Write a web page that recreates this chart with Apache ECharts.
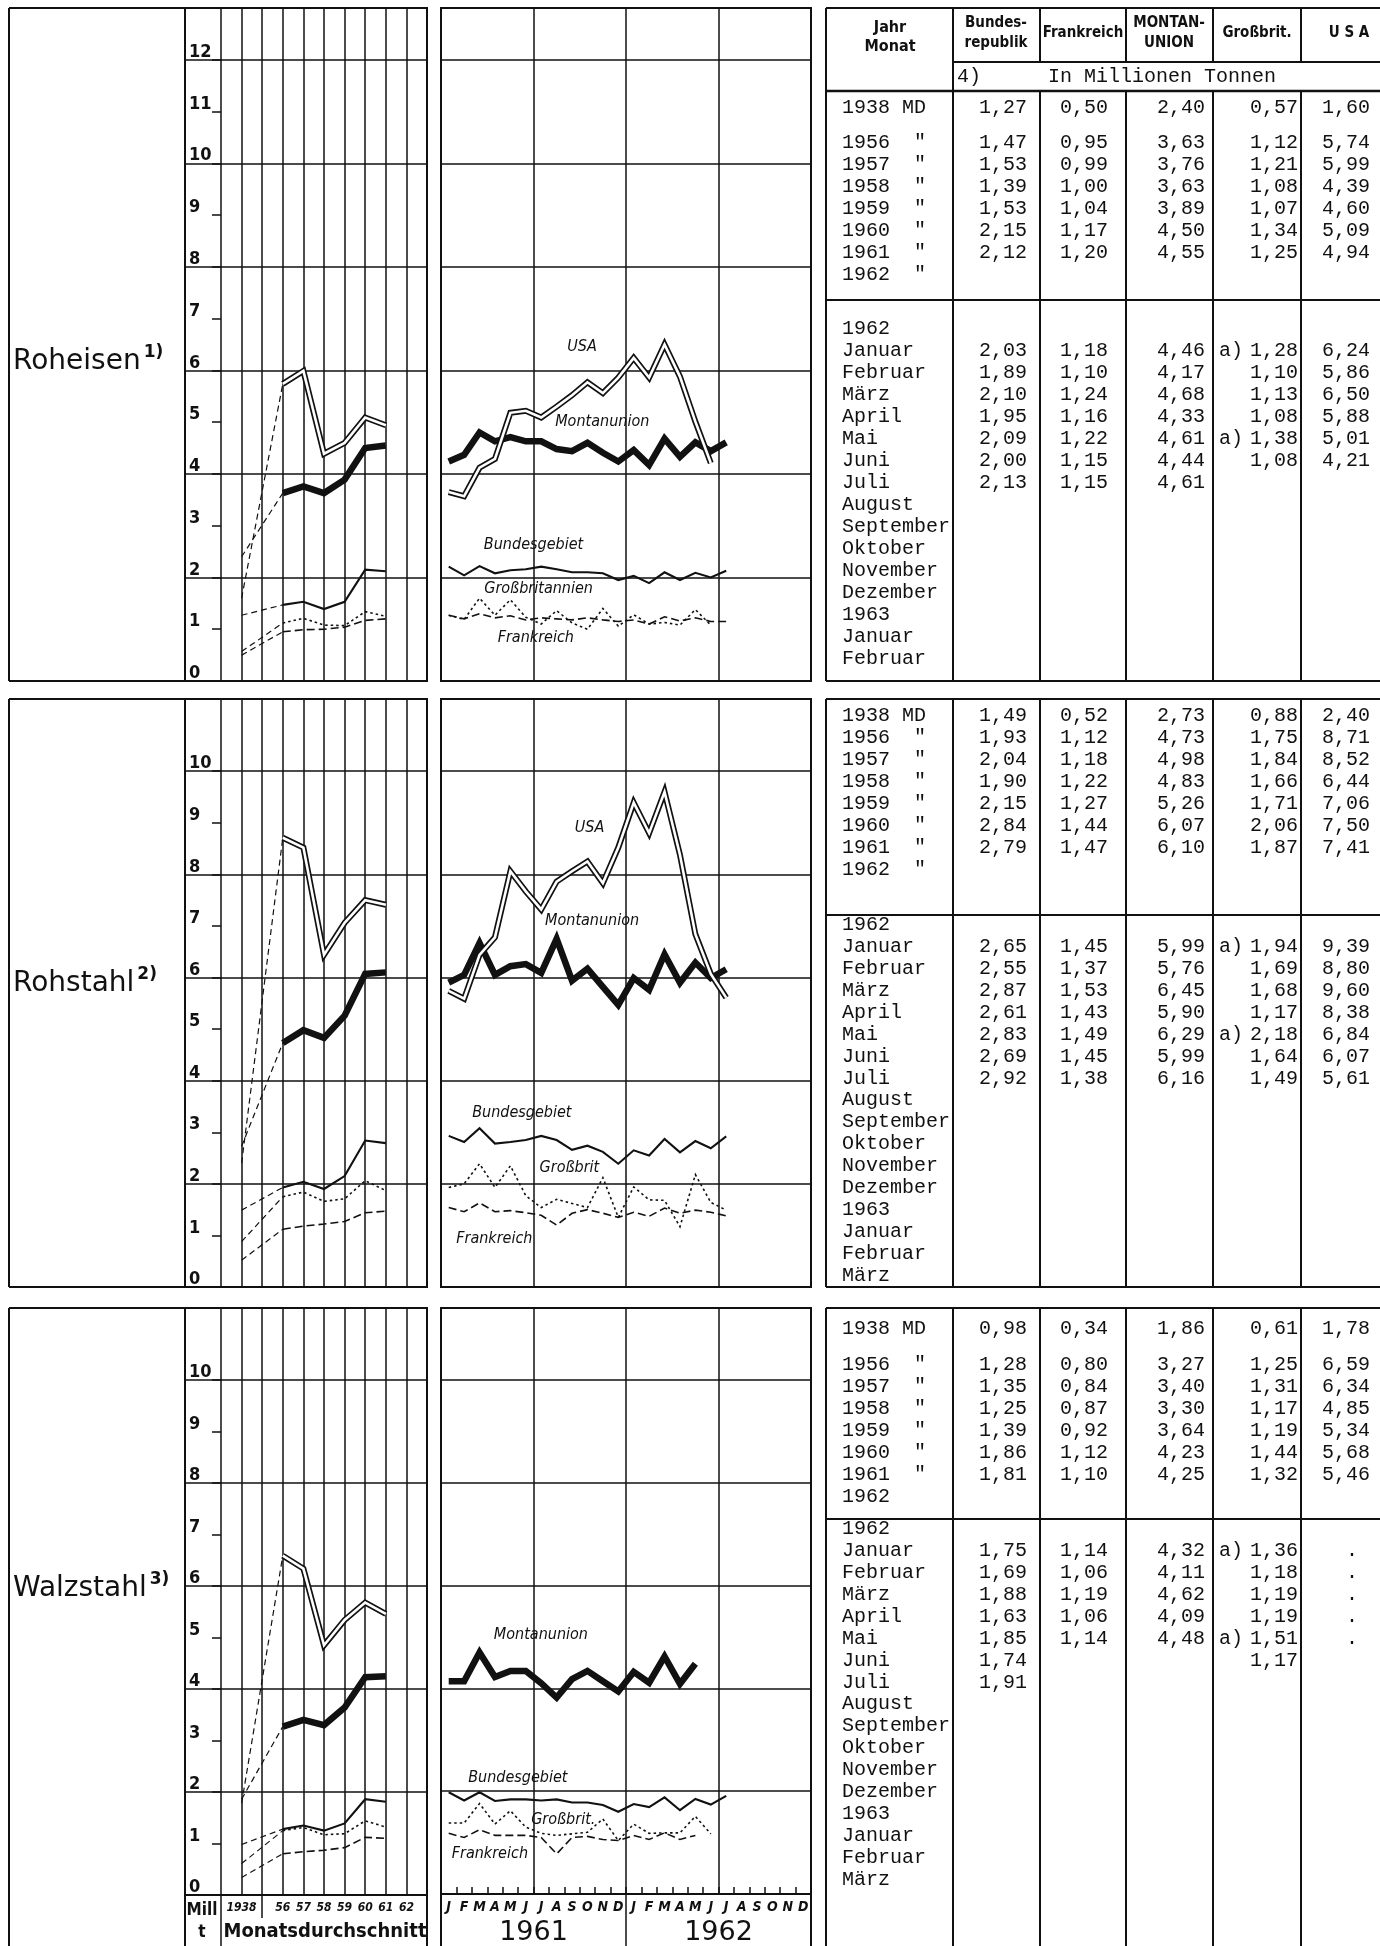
<!DOCTYPE html>
<html>
<head>
<meta charset="utf-8">
<script src="https://cdn.jsdelivr.net/npm/echarts/dist/echarts.min.js"></script>
<style>
html,body{margin:0;padding:0;background:#fff;}
#c{width:1380px;height:1946px;}
</style>
</head>
<body>
<div id="c"></div>
<script>
// ================= DATA =================
const annualYears = ['1938', '1956', '1957', '1958', '1959', '1960', '1961'];
const annualTickLabels = ['', '1938', '', '56', '57', '58', '59', '60', '61', '62', ''];
const monthLetters = ['J','F','M','A','M','J','J','A','S','O','N','D','J','F','M','A','M','J','J','A','S','O','N','D'];
const monthYearLabels = ['1961', '1962'];

// Roheisen – Monatsdurchschnitt (Mill. t): 1938, 1956 … 1961
const roheisenAnnualBRD = [1.27, 1.47, 1.53, 1.39, 1.53, 2.15, 2.12];
const roheisenAnnualFR  = [0.50, 0.95, 0.99, 1.00, 1.04, 1.17, 1.20];
const roheisenAnnualMU  = [2.40, 3.63, 3.76, 3.63, 3.89, 4.50, 4.55];
const roheisenAnnualGB  = [0.57, 1.12, 1.21, 1.08, 1.07, 1.34, 1.25];
const roheisenAnnualUSA = [1.60, 5.74, 5.99, 4.39, 4.60, 5.09, 4.94];
// Roheisen – months Jan 1961 … Dec 1962
const roheisenMonthlyBRD = [2.21,2.04,2.22,2.08,2.14,2.16,2.21,2.16,2.10,2.10,2.08,1.95, 2.03,1.89,2.10,1.95,2.09,2.00,2.13,null,null,null,null,null];
const roheisenMonthlyFR  = [1.27,1.20,1.30,1.22,1.26,1.18,1.22,1.20,1.18,1.22,1.18,1.15, 1.18,1.10,1.24,1.16,1.22,1.15,1.15,null,null,null,null,null];
const roheisenMonthlyMU  = [4.24,4.37,4.80,4.63,4.71,4.63,4.63,4.48,4.44,4.60,4.41,4.24, 4.46,4.17,4.68,4.33,4.61,4.44,4.61,null,null,null,null,null];
const roheisenMonthlyGB  = [1.27,1.19,1.60,1.27,1.57,1.23,1.10,1.36,1.12,1.00,1.40,1.06, 1.28,1.10,1.13,1.08,1.38,1.08,null,null,null,null,null,null];
const roheisenMonthlyUSA = [3.65,3.57,4.12,4.29,5.18,5.22,5.09,5.30,5.52,5.77,5.56,5.86, 6.24,5.86,6.50,5.88,5.01,4.21,null,null,null,null,null,null];

// Rohstahl
const rohstahlAnnualBRD = [1.49, 1.93, 2.04, 1.90, 2.15, 2.84, 2.79];
const rohstahlAnnualFR  = [0.52, 1.12, 1.18, 1.22, 1.27, 1.44, 1.47];
const rohstahlAnnualMU  = [2.73, 4.73, 4.98, 4.83, 5.26, 6.07, 6.10];
const rohstahlAnnualGB  = [0.88, 1.75, 1.84, 1.66, 1.71, 2.06, 1.87];
const rohstahlAnnualUSA = [2.40, 8.71, 8.52, 6.44, 7.06, 7.50, 7.41];
const rohstahlMonthlyBRD = [2.93,2.81,3.08,2.78,2.81,2.85,2.93,2.85,2.66,2.74,2.62,2.39, 2.65,2.55,2.87,2.61,2.83,2.69,2.92,null,null,null,null,null];
const rohstahlMonthlyFR  = [1.54,1.46,1.63,1.46,1.48,1.44,1.39,1.20,1.43,1.50,1.43,1.35, 1.45,1.37,1.53,1.43,1.49,1.45,1.38,null,null,null,null,null];
const rohstahlMonthlyMU  = [5.90,6.05,6.67,6.05,6.22,6.26,6.09,6.75,5.94,6.17,5.82,5.47, 5.99,5.76,6.45,5.90,6.29,5.99,6.16,null,null,null,null,null];
const rohstahlMonthlyGB  = [1.93,2.00,2.39,1.93,2.35,1.77,1.54,1.70,1.62,1.54,2.12,1.35, 1.94,1.69,1.68,1.17,2.18,1.64,1.49,null,null,null,null,null];
const rohstahlMonthlyUSA = [5.74,5.59,6.44,6.78,8.06,7.67,7.32,7.86,8.06,8.25,7.83,8.52, 9.39,8.80,9.60,8.38,6.84,6.07,5.61,null,null,null,null,null];

// Walzstahl
const walzstahlAnnualBRD = [0.98, 1.28, 1.35, 1.25, 1.39, 1.86, 1.81];
const walzstahlAnnualFR  = [0.34, 0.80, 0.84, 0.87, 0.92, 1.12, 1.10];
const walzstahlAnnualMU  = [1.86, 3.27, 3.40, 3.30, 3.64, 4.23, 4.25];
const walzstahlAnnualGB  = [0.61, 1.25, 1.31, 1.17, 1.19, 1.44, 1.32];
const walzstahlAnnualUSA = [1.78, 6.59, 6.34, 4.85, 5.34, 5.68, 5.46];
const walzstahlMonthlyBRD = [1.98,1.82,1.98,1.81,1.84,1.84,1.82,1.84,1.78,1.78,1.73,1.60, 1.75,1.69,1.88,1.63,1.85,1.74,1.91,null,null,null,null,null];
const walzstahlMonthlyFR  = [1.18,1.10,1.25,1.14,1.14,1.14,1.10,0.78,1.10,1.12,1.06,1.04, 1.14,1.06,1.19,1.06,1.14,null,null,null,null,null,null,null];
const walzstahlMonthlyMU  = [4.14,4.14,4.70,4.22,4.34,4.34,4.10,3.82,4.18,4.34,4.14,3.94, 4.32,4.11,4.62,4.09,4.48,null,null,null,null,null,null,null];
const walzstahlMonthlyGB  = [1.38,1.38,1.76,1.36,1.62,1.30,1.18,1.14,1.17,1.20,1.46,1.04, 1.36,1.18,1.19,1.19,1.51,1.17,null,null,null,null,null,null];
const walzstahlMonthlyUSA = [null,null,null,null,null,null,null,null,null,null,null,null, null,null,null,null,null,null,null,null,null,null,null,null];
const walzstahlTableUSAMarks = ['.', '.', '.', '.', '.'];

// Table texts
const tableHeaderCols = [['Bundes-', 'republik'], ['Frankreich'], ['MONTAN-', 'UNION'], ['Großbrit.'], ['U S A']];
const tableUnitText = 'In Millionen Tonnen';
const tableAnnualLabels = ['1938 MD', '1956  "', '1957  "', '1958  "', '1959  "', '1960  "', '1961  "', '1962  "'];
const tableAnnualLabelsWalz = ['1938 MD', '1956  "', '1957  "', '1958  "', '1959  "', '1960  "', '1961  "', '1962'];
const tableMonthLabelsRoheisen = ['1962','Januar','Februar','März','April','Mai','Juni','Juli','August','September','Oktober','November','Dezember','1963','Januar','Februar'];
const tableMonthLabelsStahl = ['1962','Januar','Februar','März','April','Mai','Juni','Juli','August','September','Oktober','November','Dezember','1963','Januar','Februar','März'];
const gbFootnotes = ['a)', '', '', '', 'a)', '', ''];
const productTitles = ['Roheisen', 'Rohstahl', 'Walzstahl'];
const productNotes = ['1)', '2)', '3)'];
const monthlyLabelTexts = [
  ['USA', 'Montanunion', 'Bundesgebiet', 'Großbritannien', 'Frankreich'],
  ['USA', 'Montanunion', 'Bundesgebiet', 'Großbrit', 'Frankreich'],
  ['Montanunion', 'Bundesgebiet', 'Großbrit.', 'Frankreich']
];

// ================= LAYOUT / STYLE =================
const W = 1380, H = 1946;
const INK = '#111111';
const F_MONO = "'Liberation Mono','DejaVu Sans Mono',monospace";
const F_NARROW = "'Liberation Sans Narrow','DejaVu Sans Condensed','DejaVu Sans',sans-serif";
const F_SANS = "'DejaVu Sans','Noto Sans',sans-serif";
const F_COND = "'DejaVu Sans Condensed','DejaVu Sans',sans-serif";

const ROWS = [
  { top: 8,    bottom: 681,  ymax: 13,   labelTop: 12, boxBottom: 681,  titleY: 362 },
  { top: 699,  bottom: 1287, ymax: 11.4, labelTop: 10, boxBottom: 1287, titleY: 984 },
  { top: 1308, bottom: 1895, ymax: 11.4, labelTop: 10, boxBottom: 1962, titleY: 1589 }
];
// label anchor positions (month-centre index, value) for monthly charts
const MONTHLY_LABEL_POS = [
  [[8.65, 6.45], [9.96, 5.0], [5.5, 2.63], [5.83, 1.78], [5.65, 0.83]],
  [[9.13, 8.9], [9.3, 7.09], [4.74, 3.37], [7.83, 2.31], [2.96, 0.93]],
  [[5.98, 5.04], [4.48, 2.26], [7.43, 1.44], [2.67, 0.78]]
];

const rowSeries = [
  { annual: [roheisenAnnualFR, roheisenAnnualGB, roheisenAnnualBRD, roheisenAnnualMU, roheisenAnnualUSA],
    monthly: [roheisenMonthlyFR, roheisenMonthlyGB, roheisenMonthlyBRD, roheisenMonthlyMU, roheisenMonthlyUSA] },
  { annual: [rohstahlAnnualFR, rohstahlAnnualGB, rohstahlAnnualBRD, rohstahlAnnualMU, rohstahlAnnualUSA],
    monthly: [rohstahlMonthlyFR, rohstahlMonthlyGB, rohstahlMonthlyBRD, rohstahlMonthlyMU, rohstahlMonthlyUSA] },
  { annual: [walzstahlAnnualFR, walzstahlAnnualGB, walzstahlAnnualBRD, walzstahlAnnualMU, walzstahlAnnualUSA],
    monthly: [walzstahlMonthlyFR, walzstahlMonthlyGB, walzstahlMonthlyBRD, walzstahlMonthlyMU, walzstahlMonthlyUSA] }
];
// style per country index: FR, GB, BRD, MU, USA
const LINE_STYLES = [
  { width: 1.6, type: [8, 4] },
  { width: 1.6, type: [2.5, 3] },
  { width: 2.1, type: 'solid' },
  { width: 6.5, type: 'solid' },
  { width: 6, type: 'solid', double: true }
];
const ANNUAL_X = [3, 4, 5, 6, 7, 8];   // 1956..1961 positions on the annual x scale (1938 at 1)

// ================= BUILD =================
const grid = [], xAxis = [], yAxis = [], series = [];
const muMonthlySeriesIdx = [];

function addLine(xi, yi, data, width, type, color) {
  series.push({
    type: 'line', xAxisIndex: xi, yAxisIndex: yi, data: data,
    symbol: 'none', silent: true, animation: false,
    lineStyle: { color: color || INK, width: width, type: type || 'solid', join: 'miter', cap: 'butt', miterLimit: 6 }
  });
  return series.length - 1;
}

ROWS.forEach((R, r) => {
  const h = R.bottom - R.top;
  const last = r === 2;
  const gBg = grid.length;
  grid.push({ left: 185, top: R.top, width: 242, height: h, show: true, borderColor: INK, borderWidth: 2, backgroundColor: 'transparent' });
  const gAn = grid.length;
  grid.push({ left: 221, top: R.top, width: 206, height: h, show: false });
  const gMo = grid.length;
  grid.push({ left: 441, top: R.top, width: 370, height: h, show: true, borderColor: INK, borderWidth: 2, backgroundColor: 'transparent' });

  xAxis.push({ gridIndex: gBg, type: 'value', min: 0, max: 1, show: false });
  yAxis.push({ gridIndex: gBg, type: 'value', min: 0, max: R.ymax, interval: 2,
    axisLine: { show: false }, axisTick: { show: false }, axisLabel: { show: false },
    splitLine: { show: true, lineStyle: { color: INK, width: 1.5 } } });

  const xAn = xAxis.length;
  xAxis.push({ gridIndex: gAn, type: 'value', min: 0, max: 10, interval: 1,
    axisLine: { show: false }, axisTick: { show: false }, axisLabel: { show: false },
    splitLine: { show: true, lineStyle: { color: INK, width: 1.5 } } });
  const labelVals = [];
  for (let v = 0; v <= R.labelTop; v++) labelVals.push(v);
  const yAn = yAxis.length;
  yAxis.push({ gridIndex: gAn, type: 'value', min: 0, max: R.ymax, interval: 1,
    axisLine: { show: false }, splitLine: { show: false },
    axisTick: { show: true, length: 9, inside: false, customValues: labelVals, lineStyle: { color: INK, width: 1.5 } },
    axisLabel: { show: true, customValues: labelVals, formatter: v => (v <= R.labelTop && Math.abs(v - Math.round(v)) < 1e-6) ? String(Math.round(v)) : '',
      align: 'left', verticalAlign: 'bottom', margin: 32, color: INK, fontSize: 18, fontWeight: 'bold', fontFamily: F_COND, lineHeight: 15 } });

  const xMo = xAxis.length;
  xAxis.push({ gridIndex: gMo, type: 'value', min: 0, max: 24, interval: 6,
    axisLine: { show: false },
    axisTick: { show: last, inside: true, length: 7, lineStyle: { color: INK, width: 1.5 } },
    minorTick: { show: last, splitNumber: 6, length: 7, lineStyle: { color: INK, width: 1.5 } },
    axisLabel: { show: false },
    splitLine: { show: true, lineStyle: { color: INK, width: 1.5 } } });
  const yMo = yAxis.length;
  yAxis.push({ gridIndex: gMo, type: 'value', min: 0, max: R.ymax, interval: 2,
    axisLine: { show: false }, axisTick: { show: false }, axisLabel: { show: false },
    splitLine: { show: true, lineStyle: { color: INK, width: 1.5 } } });

  if (last) {
    xAxis.push({ gridIndex: gAn, type: 'category', data: annualTickLabels, boundaryGap: false, position: 'bottom',
      axisLine: { show: false }, axisTick: { show: false }, splitLine: { show: false },
      axisLabel: { interval: 0, margin: 7, color: INK, fontSize: 12, fontStyle: 'italic', fontWeight: 'bold', fontFamily: F_COND } });
    xAxis.push({ gridIndex: gMo, type: 'category', data: monthLetters, boundaryGap: true, position: 'bottom',
      axisLine: { show: false }, axisTick: { show: false }, splitLine: { show: false },
      axisLabel: { interval: 0, margin: 6, color: INK, fontSize: 14, fontStyle: 'italic', fontWeight: 'bold', fontFamily: F_COND } });
    xAxis.push({ gridIndex: gMo, type: 'category', data: monthYearLabels, boundaryGap: true, position: 'bottom', offset: 23,
      axisLine: { show: false }, axisTick: { show: false }, splitLine: { show: false },
      axisLabel: { interval: 0, margin: 2, color: INK, fontSize: 27, fontFamily: F_SANS } });
  }

  const S = rowSeries[r];
  // annual: dashed connectors 1938 -> 1956
  S.annual.forEach(arr => addLine(xAn, yAn, [[1, arr[0]], [3, arr[1]]], 1.2, [6, 4]));
  S.annual.forEach((arr, c) => {
    const st = LINE_STYLES[c];
    const data = ANNUAL_X.map((x, k) => [x, arr[k + 1]]);
    if (st.double) {
      addLine(xAn, yAn, data, st.width, 'solid', INK);
      addLine(xAn, yAn, data, st.width - 3.4, 'solid', '#ffffff');
    } else {
      addLine(xAn, yAn, data, st.width, st.type);
    }
  });
  // monthly
  S.monthly.forEach((arr, c) => {
    const st = LINE_STYLES[c];
    const data = [];
    arr.forEach((v, i) => { if (v !== null && v !== undefined) data.push([i + 0.5, v]); });
    if (!data.length) return;
    let idx;
    if (st.double) {
      idx = addLine(xMo, yMo, data, st.width, 'solid', INK);
      addLine(xMo, yMo, data, st.width - 3.4, 'solid', '#ffffff');
    } else {
      idx = addLine(xMo, yMo, data, st.width, st.type);
    }
    if (c === 3) muMonthlySeriesIdx[r] = idx;
  });
});

const chart = echarts.init(document.getElementById('c'), null, { renderer: 'canvas', width: W, height: H });
chart.setOption({ animation: false, backgroundColor: '#ffffff', grid: grid, xAxis: xAxis, yAxis: yAxis, series: series });

// ================= GRAPHIC (frames, texts, table) =================
const G = [];
function ln(x1, y1, x2, y2, w) {
  G.push({ type: 'line', silent: true, z: 50, shape: { x1: x1, y1: y1, x2: x2, y2: y2 }, style: { stroke: INK, lineWidth: w || 2 } });
}
function tx(x, y, s, font, align, valign) {
  G.push({ type: 'text', silent: true, z: 60, x: x, y: y,
    style: { text: s, font: font, fill: INK, textAlign: align || 'left', textVerticalAlign: valign || 'middle', align: align || 'left', verticalAlign: valign || 'middle' } });
}
const measureCtx = document.createElement('canvas').getContext('2d');
function textWidth(s, font) { measureCtx.font = font; return measureCtx.measureText(s).width; }

const fmt = v => v.toFixed(2).replace('.', ',');

ROWS.forEach((R, r) => {
  // left label box
  ln(9, R.top, 185, R.top, 2);
  ln(9, R.top, 9, R.boxBottom, 2);
  if (r < 2) ln(9, R.boxBottom, 185, R.boxBottom, 2);
  const tFont = "28px " + F_SANS;
  tx(13, R.titleY, productTitles[r], tFont, 'left', 'middle');
  const tw = textWidth(productTitles[r], tFont);
  tx(13 + tw + 3, R.titleY - 9, productNotes[r], "bold 17px " + F_SANS, 'left', 'middle');

  // monthly labels
  const sIdx = muMonthlySeriesIdx[r];
  MONTHLY_LABEL_POS[r].forEach((p, k) => {
    const px = chart.convertToPixel({ seriesIndex: sIdx }, [p[0] + 0.5, p[1]]);
    tx(px[0], px[1], monthlyLabelTexts[r][k], "italic 16px " + F_COND, 'center', 'middle');
  });
});

// bottom strip (row 3)
(function () {
  const y0 = 1895, y1 = 1950;
  ln(185, y0, 185, y1, 2);
  ln(221, y0, 221, y1, 1.5);
  ln(262, y0, 262, 1918, 1.5);
  ln(427, y0, 427, y1, 2);
  ln(441, y0, 441, y1, 2);
  ln(626, y0, 626, y1, 1.5);
  ln(811, y0, 811, y1, 2);
  tx(202, 1911, 'Mill', "bold 17px " + F_NARROW, 'center', 'middle');
  tx(202, 1933, 't', "bold 17px " + F_NARROW, 'center', 'middle');
  tx(325, 1932, 'Monatsdurchschnitt', "bold 20px " + F_NARROW, 'center', 'middle');
})();

// ---- table ----
const TCOL = [826, 953, 1040, 1126, 1213, 1301];
const TRIGHT = 1384;
const VAL_RIGHT = [1027, 1108, 1205, 1298, 1370];
const TLABEL_X = 842;
const TABLE_LAYOUT = [
  { top: 8,    bottom: 681,  annualY: [108, 143, 165, 187, 209, 231, 253, 275], sep: 300,  monthY0: 329,  step: 22,   labels: tableMonthLabelsRoheisen, annualLabels: tableAnnualLabels },
  { top: 699,  bottom: 1287, annualY: [716, 738, 760, 782, 804, 826, 848, 870], sep: 915,  monthY0: 925,  step: 21.9, labels: tableMonthLabelsStahl, annualLabels: tableAnnualLabels },
  { top: 1308, bottom: 1962, annualY: [1329, 1365, 1387, 1409, 1431, 1453, 1475, 1497], sep: 1519, monthY0: 1529, step: 21.9, labels: tableMonthLabelsStahl, annualLabels: tableAnnualLabelsWalz }
];
const monoFont = "20px " + F_MONO;
const HEAD_LINE = 62, UNIT_LINE = 91;
// table column order: BRD, FR, MU, GB, USA -> rowSeries index
const TABLE_ORDER = [2, 0, 3, 1, 4];

TABLE_LAYOUT.forEach((L, r) => {
  const S = rowSeries[r];
  ln(TCOL[0], L.top, TRIGHT, L.top, 2);
  ln(TCOL[0], L.top, TCOL[0], L.bottom, 2);
  if (r < 2) ln(TCOL[0], L.bottom, TRIGHT, L.bottom, 2);
  ln(TCOL[1], L.top, TCOL[1], L.bottom, 2);
  for (let c = 2; c < TCOL.length; c++) {
    if (r === 0) { ln(TCOL[c], L.top, TCOL[c], HEAD_LINE, 2); ln(TCOL[c], UNIT_LINE, TCOL[c], L.bottom, 2); }
    else ln(TCOL[c], L.top, TCOL[c], L.bottom, 2);
  }
  ln(TCOL[0], L.sep, TRIGHT, L.sep, 2);

  if (r === 0) {
    ln(TCOL[1], HEAD_LINE, TRIGHT, HEAD_LINE, 2);
    ln(TCOL[0], UNIT_LINE, TRIGHT, UNIT_LINE, 2.5);
    const hf = "bold 15px " + F_NARROW;
    tx(890, 28, 'Jahr', "bold 16px " + F_NARROW, 'center', 'middle');
    tx(890, 47, 'Monat', "bold 16px " + F_NARROW, 'center', 'middle');
    const centers = [996, 1083, 1169, 1257, 1349];
    tableHeaderCols.forEach((lines, c) => {
      if (lines.length === 2) { tx(centers[c], 23, lines[0], hf, 'center', 'middle'); tx(centers[c], 43, lines[1], hf, 'center', 'middle'); }
      else tx(centers[c], 33, lines[0], hf, 'center', 'middle');
    });
    tx(957, 77, '4)', monoFont, 'left', 'middle');
    tx(1162, 77, tableUnitText, monoFont, 'center', 'middle');
  }

  // annual rows
  L.annualLabels.forEach((s, k) => tx(TLABEL_X, L.annualY[k], s, monoFont, 'left', 'middle'));
  for (let k = 0; k < annualYears.length; k++) {
    TABLE_ORDER.forEach((si, c) => tx(VAL_RIGHT[c], L.annualY[k], fmt(S.annual[si][k]), monoFont, 'right', 'middle'));
  }
  // monthly rows
  L.labels.forEach((s, k) => tx(TLABEL_X, L.monthY0 + k * L.step, s, monoFont, 'left', 'middle'));
  for (let m = 0; m < 12; m++) {
    const y = L.monthY0 + (m + 1) * L.step;
    TABLE_ORDER.forEach((si, c) => {
      const v = S.monthly[si][12 + m];
      if (v !== null && v !== undefined) tx(VAL_RIGHT[c], y, fmt(v), monoFont, 'right', 'middle');
    });
    if (gbFootnotes[m]) tx(1219, y, gbFootnotes[m], monoFont, 'left', 'middle');
    if (r === 2 && m < walzstahlTableUSAMarks.length) tx(1352, y, walzstahlTableUSAMarks[m], monoFont, 'center', 'middle');
  }
});

chart.setOption({ graphic: { elements: G } });
</script>
</body>
</html>
